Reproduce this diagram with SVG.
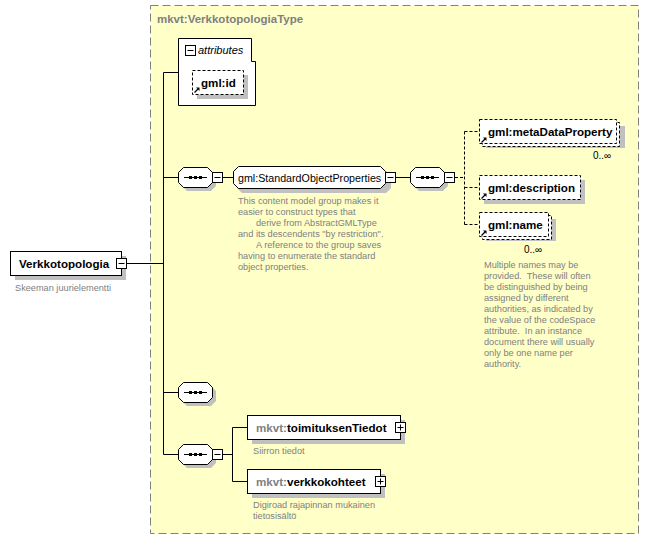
<svg xmlns="http://www.w3.org/2000/svg" xmlns:xlink="http://www.w3.org/1999/xlink" width="649" height="539" viewBox="0 0 649 539">
<style>
.box{fill:#fff;stroke:#000;stroke-width:1}
.dbox{fill:#fff;stroke:#000;stroke-width:1;stroke-dasharray:3,2}
.sh{fill:#c0c0c0;stroke:none}
.ln{stroke:#000;stroke-width:1;fill:none}
.dln{stroke:#000;stroke-width:1;fill:none;stroke-dasharray:3,2}
.nm{font-family:"Liberation Sans",Arial,sans-serif;font-weight:bold;font-size:11.6px;fill:#000}
.pre{fill:#808080}
.grp{font-family:"Liberation Sans",Arial,sans-serif;font-size:10.7px;fill:#000}
.ds{font-family:"Liberation Sans",Arial,sans-serif;font-size:9.2px;fill:#808080;white-space:pre}
.occ{font-family:"Liberation Sans",Arial,sans-serif;font-size:10px;fill:#000}
.title{font-family:"Liberation Sans",Arial,sans-serif;font-weight:bold;font-size:11.5px;fill:#808080}
</style>
<defs>
<g id="seq">
<polygon class="sh" points="9,4 33,4 38,9 38,19 33,24 9,24 4,19 4,9"/>
<polygon class="box" points="5.5,0.5 29.5,0.5 34.5,5.5 34.5,15.5 29.5,20.5 5.5,20.5 0.5,15.5 0.5,5.5"/>
<line x1="6" y1="10.5" x2="29" y2="10.5" stroke="#000"/>
<rect x="11" y="9" width="3" height="3" fill="#000"/>
<rect x="16" y="9" width="3" height="3" fill="#000"/>
<rect x="21" y="9" width="3" height="3" fill="#000"/>
</g>
<g id="minus">
<rect class="box" x="0.5" y="0.5" width="10" height="10"/>
<line x1="2.5" y1="5.5" x2="8.5" y2="5.5" stroke="#000"/>
</g>
<g id="plus">
<rect class="box" x="0.5" y="0.5" width="10" height="10"/>
<line x1="2.5" y1="5.5" x2="8.5" y2="5.5" stroke="#000"/>
<line x1="5.5" y1="2.5" x2="5.5" y2="8.5" stroke="#000"/>
</g>
<g id="ref">
<line x1="0.5" y1="5.5" x2="4" y2="2" stroke="#000" stroke-width="1.2"/>
<polygon points="2,0.5 5.5,0.5 5.5,4" fill="#000"/>
</g>
</defs>

<g id="container">
<rect x="150.5" y="5.5" width="488" height="528" fill="#FFFFC8" stroke="#808080" stroke-dasharray="8,4"/>
<text class="title" x="157" y="23">mkvt:VerkkotopologiaType</text>
</g>

<g id="connectors">
<line class="ln" x1="126.5" y1="263.5" x2="163.5" y2="263.5"/>
<line class="ln" x1="163.5" y1="72.5" x2="163.5" y2="454.5"/>
<line class="ln" x1="163.5" y1="72.5" x2="178.5" y2="72.5"/>
<line class="ln" x1="163.5" y1="177.5" x2="178.5" y2="177.5"/>
<line class="ln" x1="222.5" y1="177.5" x2="233.5" y2="177.5"/>
<line class="ln" x1="395.5" y1="177.5" x2="410.5" y2="177.5"/>
<line class="dln" x1="455" y1="177.5" x2="464.5" y2="177.5"/>
<line class="dln" x1="464.5" y1="131.5" x2="464.5" y2="224.5"/>
<line class="dln" x1="464.5" y1="131.5" x2="479.5" y2="131.5"/>
<line class="dln" x1="464.5" y1="187.5" x2="479.5" y2="187.5"/>
<line class="dln" x1="464.5" y1="224.5" x2="479.5" y2="224.5"/>
<line class="ln" x1="163.5" y1="392.5" x2="178.5" y2="392.5"/>
<line class="ln" x1="163.5" y1="454.5" x2="178.5" y2="454.5"/>
<line class="ln" x1="222.5" y1="454.5" x2="232.5" y2="454.5"/>
<line class="ln" x1="232.5" y1="427.5" x2="232.5" y2="481.5"/>
<line class="ln" x1="232.5" y1="427.5" x2="247.5" y2="427.5"/>
<line class="ln" x1="232.5" y1="481.5" x2="247.5" y2="481.5"/>
</g>

<g id="root">
<rect class="sh" x="15" y="256" width="111" height="24"/>
<rect class="box" x="10.5" y="251.5" width="111" height="24"/>
<text class="nm" x="19" y="268">Verkkotopologia</text>
<use xlink:href="#minus" x="116" y="258"/>
<text class="ds" x="15" y="291">Skeeman juurielementti</text>
</g>

<g id="attributes">
<polygon class="box" points="178.5,38.5 251.5,38.5 251.5,61.5 255.5,61.5 255.5,105.5 178.5,105.5"/>
<use xlink:href="#minus" x="185" y="45"/>
<text x="198" y="54" font-family="Liberation Sans, Arial, sans-serif" font-style="italic" font-size="11px">attributes</text>
</g>

<g id="gml-id">
<rect class="sh" x="197" y="75" width="51" height="24"/>
<rect class="dbox" x="192.5" y="70.5" width="51" height="24"/>
<text class="nm" x="201" y="86.5">gml:id</text>
<use xlink:href="#ref" x="194" y="87"/>
</g>

<g id="seq1">
<use xlink:href="#seq" x="178" y="167"/>
<use xlink:href="#minus" x="212" y="172"/>
</g>

<g id="standardObjectProperties">
<polygon class="sh" points="242,171 386,171 391,176 391,188 386,193 242,193 237,188 237,176"/>
<polygon class="box" points="238.5,166.5 380.5,166.5 385.5,171.5 385.5,183.5 380.5,188.5 238.5,188.5 233.5,183.5 233.5,171.5"/>
<text class="grp" x="238" y="181.5">gml:StandardObjectProperties</text>
<use xlink:href="#minus" x="385" y="172"/>
<text class="ds" x="238"><tspan x="238" y="204">This content model group makes it</tspan><tspan x="238" y="215">easier to construct types that</tspan><tspan x="256" y="226">derive from AbstractGMLType</tspan><tspan x="238" y="237">and its descendents "by restriction".</tspan><tspan x="256" y="248">A reference to the group saves</tspan><tspan x="238" y="259">having to enumerate the standard</tspan><tspan x="238" y="270">object properties.</tspan></text>
</g>

<g id="seq2">
<use xlink:href="#seq" x="410" y="167"/>
<use xlink:href="#minus" x="444" y="172"/>
</g>

<g id="metaDataProperty">
<rect class="sh" x="486" y="126" width="139" height="22"/>
<rect class="dbox" x="482.5" y="122.5" width="137" height="24"/>
<rect class="dbox" x="479.5" y="119.5" width="137" height="24"/>
<text class="nm" x="488" y="135.5">gml:metaDataProperty</text>
<use xlink:href="#ref" x="481" y="137"/>
<text class="occ" x="593" y="159">0..∞</text>
</g>

<g id="description">
<rect class="sh" x="484" y="180" width="101" height="24"/>
<rect class="dbox" x="479.5" y="175.5" width="101" height="24"/>
<text class="nm" x="488" y="192">gml:description</text>
<use xlink:href="#ref" x="481" y="193"/>
</g>

<g id="name">
<rect class="sh" x="486" y="219" width="70" height="22"/>
<rect class="dbox" x="482.5" y="215.5" width="69" height="24"/>
<rect class="dbox" x="479.5" y="212.5" width="69" height="24"/>
<text class="nm" x="488" y="229">gml:name</text>
<use xlink:href="#ref" x="481" y="230"/>
<text class="occ" x="524" y="253">0..∞</text>
<text class="ds"><tspan x="484" y="268">Multiple names may be</tspan><tspan x="484" y="279">provided.  These will often</tspan><tspan x="484" y="290">be distinguished by being</tspan><tspan x="484" y="301">assigned by different</tspan><tspan x="484" y="312">authorities, as indicated by</tspan><tspan x="484" y="323">the value of the codeSpace</tspan><tspan x="484" y="334">attribute.  In an instance</tspan><tspan x="484" y="345">document there will usually</tspan><tspan x="484" y="356">only be one name per</tspan><tspan x="484" y="367">authority.</tspan></text>
</g>

<g id="seq3">
<use xlink:href="#seq" x="178" y="382"/>
</g>

<g id="seq4">
<use xlink:href="#seq" x="178" y="444"/>
<use xlink:href="#minus" x="212" y="449"/>
</g>

<g id="toimituksenTiedot">
<rect class="sh" x="252" y="420" width="153" height="24"/>
<rect class="box" x="247.5" y="415.5" width="153" height="24"/>
<text class="nm" x="256" y="431.5"><tspan class="pre">mkvt:</tspan>toimituksenTiedot</text>
<use xlink:href="#plus" x="395" y="422"/>
<text class="ds" x="253" y="454">Siirron tiedot</text>
</g>

<g id="verkkokohteet">
<rect class="sh" x="252" y="474" width="133" height="24"/>
<rect class="box" x="247.5" y="469.5" width="133" height="24"/>
<text class="nm" x="256" y="485.5"><tspan class="pre">mkvt:</tspan>verkkokohteet</text>
<use xlink:href="#plus" x="375" y="476"/>
<text class="ds"><tspan x="253" y="508">Digiroad rajapinnan mukainen</tspan><tspan x="253" y="519">tietosisältö</tspan></text>
</g>
</svg>
